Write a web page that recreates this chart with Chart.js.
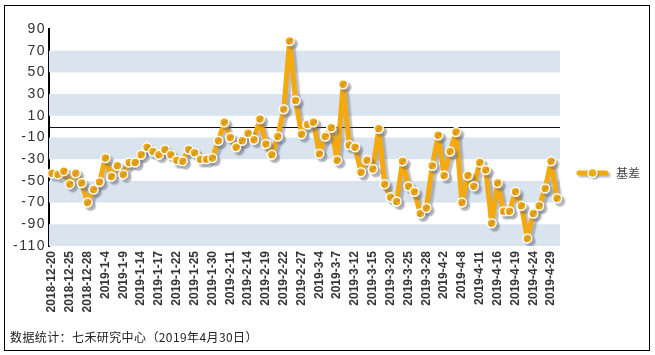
<!DOCTYPE html>
<html>
<head>
<meta charset="utf-8">
<script src="https://cdn.jsdelivr.net/npm/chart.js@4/dist/chart.umd.min.js"></script>
<style>
  html, body { margin: 0; padding: 0; background: #fff; overflow: hidden; }
  #wrap { position: relative; width: 655px; height: 355px; }
  #c { position: absolute; left: 0; top: 0; }
  #frame { position: absolute; left: 4px; top: 5px; width: 644px; height: 344px; border: 1px solid #000; pointer-events: none; }
  #foot { position: absolute; left: 10px; top: 329px; font: 12px "Noto Sans CJK SC", "Liberation Sans", sans-serif; letter-spacing: 0.4px; color: #222; line-height: 16px; white-space: nowrap; }
</style>
</head>
<body>
<div id="wrap">
  <canvas id="c" width="655" height="355"></canvas>
  <div id="frame"></div>
  <div id="foot">数据统计：七禾研究中心（2019年4月30日）</div>
</div>
<script>
const dates = [
  '2018-12-20','2018-12-21','2018-12-24','2018-12-25','2018-12-26','2018-12-27','2018-12-28',
  '2019-1-2','2019-1-3','2019-1-4','2019-1-7','2019-1-8','2019-1-9','2019-1-10','2019-1-11',
  '2019-1-14','2019-1-15','2019-1-16','2019-1-17','2019-1-18','2019-1-21','2019-1-22','2019-1-23',
  '2019-1-24','2019-1-25','2019-1-28','2019-1-29','2019-1-30','2019-1-31',
  '2019-2-1','2019-2-11','2019-2-12','2019-2-13','2019-2-14','2019-2-15','2019-2-18','2019-2-19',
  '2019-2-20','2019-2-21','2019-2-22','2019-2-25','2019-2-26','2019-2-27','2019-2-28',
  '2019-3-1','2019-3-4','2019-3-5','2019-3-6','2019-3-7','2019-3-8','2019-3-11','2019-3-12',
  '2019-3-13','2019-3-14','2019-3-15','2019-3-18','2019-3-19','2019-3-20','2019-3-21','2019-3-22',
  '2019-3-25','2019-3-26','2019-3-27','2019-3-28','2019-3-29',
  '2019-4-1','2019-4-2','2019-4-3','2019-4-4','2019-4-8','2019-4-9','2019-4-10','2019-4-11',
  '2019-4-12','2019-4-15','2019-4-16','2019-4-17','2019-4-18','2019-4-19','2019-4-22','2019-4-23',
  '2019-4-24','2019-4-25','2019-4-26','2019-4-29','2019-4-30'
];

const basis = [
  -43,-44,-41,-53,-43,-52,-70,-58,-51,-29,
  -46,-36,-44,-33,-33,-26,-19,-23,-26,-21,
  -26,-31,-32,-21,-24,-30,-30,-29,-13,4,
  -10,-19,-13,-6,-12,7,-16,-26,-9,16,
  79,24,-7,2,4,-25,-9,-1,-31,39,
  -17,-19,-42,-31,-39,-2,-53,-65,-69,-32,
  -55,-60,-80,-75,-36,-8,-45,-23,-5,-70,
  -45,-55,-33,-40,-89,-52,-78,-78,-60,-73,
  -103,-80,-73,-57,-32,-66
];

const xTickLabels = [
  '2018-12-20','2018-12-25','2018-12-28','2019-1-4','2019-1-9','2019-1-14','2019-1-17',
  '2019-1-22','2019-1-25','2019-1-30','2019-2-11','2019-2-14','2019-2-19','2019-2-22',
  '2019-2-27','2019-3-4','2019-3-7','2019-3-12','2019-3-15','2019-3-20','2019-3-25',
  '2019-3-28','2019-4-2','2019-4-8','2019-4-11','2019-4-16','2019-4-19','2019-4-24','2019-4-29'
];

const yTicks = [90, 70, 50, 30, 10, -10, -30, -50, -70, -90, -110];
const seriesName = '基差';

const ORANGE = '#F4A90F';
const BAND = '#DAE4EF';
const SHADOW = 'rgba(95,100,115,0.42)';

const bandsPlugin = {
  id: 'bands',
  beforeDatasetsDraw(chart) {
    const { ctx, chartArea, scales } = chart;
    const y = scales.y;
    ctx.save();
    ctx.fillStyle = BAND;
    const sorted = yTicks.slice().sort((a, b) => b - a);
    // bands: 70..50, 30..10, -10..-30, -50..-70, -90..-110
    for (let i = 1; i < sorted.length - 1; i += 2) {
      const t = y.getPixelForValue(sorted[i]);
      const b = y.getPixelForValue(sorted[i + 1]);
      ctx.fillRect(chartArea.left, t, chartArea.right - chartArea.left, b - t);
    }
    const z = Math.round(y.getPixelForValue(0)) + 0.5;
    ctx.strokeStyle = '#111';
    ctx.lineWidth = 1;
    ctx.beginPath();
    ctx.moveTo(chartArea.left, z);
    ctx.lineTo(chartArea.right, z);
    ctx.stroke();
    ctx.restore();
  }
};

const yLabelSpacing = {
  id: 'yLabelSpacing',
  afterLayout(chart) {
    const sc = chart.scales.y;
    if (!sc || sc._spaced) return;
    const orig = sc.drawLabels.bind(sc);
    sc.drawLabels = function (area) {
      const ctx = chart.ctx;
      ctx.save();
      ctx.letterSpacing = '1.5px';
      orig(area);
      ctx.restore();
    };
    sc._spaced = true;
  }
};

const shadowPlugin = {
  id: 'shadow',
  beforeDatasetDraw(chart) {
    const ctx = chart.ctx;
    ctx.save();
    ctx.shadowColor = SHADOW;
    ctx.shadowOffsetX = 3;
    ctx.shadowOffsetY = 3;
    ctx.shadowBlur = 1.5;
  },
  afterDatasetDraw(chart) {
    chart.ctx.restore();
  }
};

const legendPlugin = {
  id: 'customLegend',
  afterDraw(chart) {
    const ctx = chart.ctx;
    const x0 = 579, x1 = 606, yy = 173;
    ctx.save();
    ctx.shadowColor = SHADOW;
    ctx.shadowOffsetX = 2;
    ctx.shadowOffsetY = 2;
    ctx.shadowBlur = 1.5;
    ctx.strokeStyle = ORANGE;
    ctx.lineWidth = 5;
    ctx.lineCap = 'round';
    ctx.beginPath();
    ctx.moveTo(x0, yy);
    ctx.lineTo(x1, yy);
    ctx.stroke();
    ctx.beginPath();
    ctx.arc((x0 + x1) / 2, yy, 4.5, 0, Math.PI * 2);
    ctx.fillStyle = ORANGE;
    ctx.fill();
    ctx.shadowColor = 'transparent';
    ctx.lineWidth = 1.5;
    ctx.strokeStyle = '#fff';
    ctx.stroke();
    ctx.fillStyle = '#444';
    ctx.font = '12px "Noto Sans CJK SC", sans-serif';
    ctx.textBaseline = 'middle';
    ctx.textAlign = 'left';
    ctx.fillText(seriesName, 616, yy);
    ctx.restore();
  }
};

new Chart(document.getElementById('c'), {
  type: 'line',
  data: {
    labels: dates,
    datasets: [{
      label: seriesName,
      data: basis,
      borderColor: ORANGE,
      backgroundColor: ORANGE,
      borderWidth: 5,
      pointRadius: 4.5,
      pointBorderWidth: 1.5,
      pointBorderColor: '#fff',
      pointBackgroundColor: ORANGE,
      tension: 0,
      borderJoinStyle: 'round'
    }]
  },
  options: {
    responsive: false,
    animation: false,
    events: [],
    layout: { padding: { left: 0, right: 95, top: 29, bottom: 0 } },
    plugins: {
      legend: { display: false },
      tooltip: { enabled: false },
      title: { display: false }
    },
    scales: {
      x: {
        type: 'category',
        offset: true,
        grid: { display: false, drawTicks: false },
        border: { display: false },
        afterFit(scale) { scale.height = 109; },
        ticks: {
          autoSkip: false,
          maxRotation: 90,
          minRotation: 90,
          padding: 5,
          color: '#333',
          font: { family: '"Liberation Sans", Arial, sans-serif', size: 12, weight: 'bold' },
          callback(value) {
            const lab = this.getLabelForValue(value);
            return xTickLabels.includes(lab) ? lab : '';
          }
        }
      },
      y: {
        min: -110,
        max: 90,
        afterBuildTicks(scale) { scale.ticks = yTicks.map(v => ({ value: v })); },
        afterFit(scale) { scale.width = 49; },
        grid: { display: false, drawTicks: false },
        border: { display: true, color: '#000', width: 2 },
        ticks: {
          padding: 3,
          color: '#333',
          font: { family: '"Liberation Sans", Arial, sans-serif', size: 14 }
        }
      }
    }
  },
  plugins: [bandsPlugin, yLabelSpacing, shadowPlugin, legendPlugin]
});
</script>
</body>
</html>
